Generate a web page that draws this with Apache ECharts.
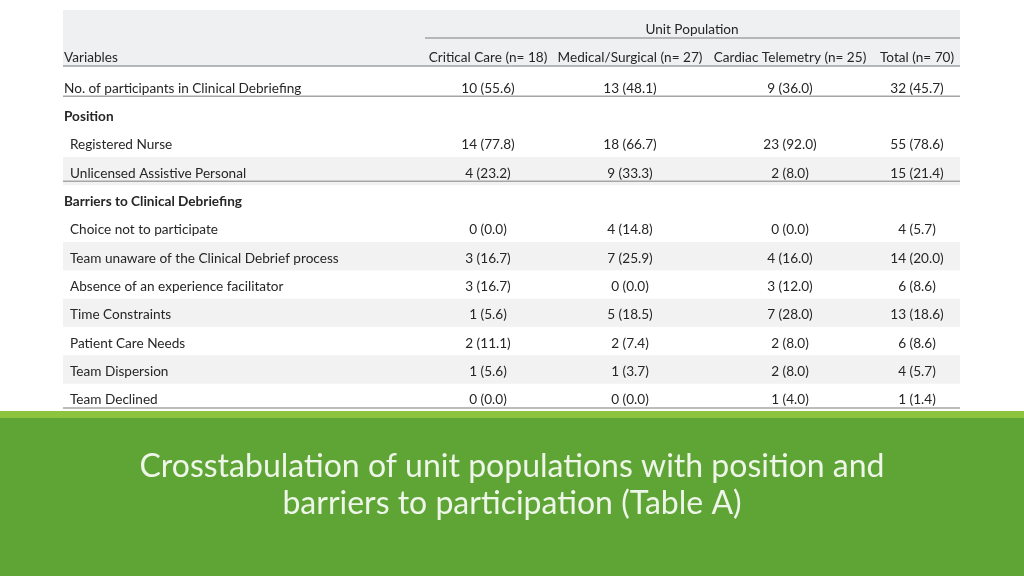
<!DOCTYPE html>
<html>
<head>
<meta charset="utf-8">
<script src="https://cdn.jsdelivr.net/npm/echarts@6/dist/echarts.min.js"></script>
<style>html,body{margin:0;padding:0;background:#fff}#main{width:1024px;height:576px}</style>
</head>
<body>
<div id="main"></div>
<script>
var columns = ['Critical Care (n= 18)', 'Medical/Surgical (n= 27)', 'Cardiac Telemetry (n= 25)', 'Total (n= 70)'];
var rowLabels = ['No. of participants in Clinical Debriefing', 'Position', 'Registered Nurse', 'Unlicensed Assistive Personal',
  'Barriers to Clinical Debriefing', 'Choice not to participate', 'Team unaware of the Clinical Debrief process',
  'Absence of an experience facilitator', 'Time Constraints', 'Patient Care Needs', 'Team Dispersion', 'Team Declined'];
var rowKind = ['plain', 'section', 'sub', 'sub', 'section', 'sub', 'sub', 'sub', 'sub', 'sub', 'sub', 'sub'];
var shaded = [0, 0, 0, 1, 0, 0, 1, 0, 1, 0, 1, 0];
var ruled = [1, 0, 0, 1, 0, 0, 0, 0, 0, 0, 0, 1];
var criticalCare = ['10 (55.6)', '', '14 (77.8)', '4 (23.2)', '', '0 (0.0)', '3 (16.7)', '3 (16.7)', '1 (5.6)', '2 (11.1)', '1 (5.6)', '0 (0.0)'];
var medSurg = ['13 (48.1)', '', '18 (66.7)', '9 (33.3)', '', '4 (14.8)', '7 (25.9)', '0 (0.0)', '5 (18.5)', '2 (7.4)', '1 (3.7)', '0 (0.0)'];
var cardiac = ['9 (36.0)', '', '23 (92.0)', '2 (8.0)', '', '0 (0.0)', '4 (16.0)', '3 (12.0)', '7 (28.0)', '2 (8.0)', '2 (8.0)', '1 (4.0)'];
var total = ['32 (45.7)', '', '55 (78.6)', '15 (21.4)', '', '4 (5.7)', '14 (20.0)', '6 (8.6)', '13 (18.6)', '6 (8.6)', '4 (5.7)', '1 (1.4)'];
var title = 'Crosstabulation of unit populations with position and\nbarriers to participation (Table A)';

var font = 'Lato, "Open Sans", sans-serif';
var fs = '13.6px ';
var colX = [488, 630, 790, 917];
var left = 63, right = 960;

var data = rowLabels.map(function (r, i) {
  return [i, r, rowKind[i], shaded[i], ruled[i], criticalCare[i], medSurg[i], cardiac[i], total[i]];
});

var chart = echarts.init(document.getElementById('main'), null, { renderer: 'canvas' });
chart.setOption({
  animation: false,
  grid: { left: 0, right: 0, top: 72, bottom: 164 },
  xAxis: { type: 'value', min: 0, max: 1, show: false },
  yAxis: { type: 'category', inverse: true, data: rowLabels, show: false },
  series: [{
    type: 'custom',
    data: data,
    encode: { y: 0 },
    renderItem: function (params, api) {
      var i = api.value(0);
      var d = data[i];
      var c = api.coord([0, i]);
      var h = api.size([0, 1])[1];
      var y = c[1];
      var kids = [];
      if (d[3]) kids.push({ type: 'rect', shape: { x: left, y: y - h / 2, width: right - left, height: h }, style: { fill: '#f2f2f2' } });
      if (d[4]) kids.push({ type: 'line', shape: { x1: left, y1: y + h / 2 - 4, x2: right, y2: y + h / 2 - 4 }, style: { stroke: '#a6a6a6', lineWidth: 1.5 } });
      kids.push({ type: 'text', style: { x: d[2] === 'sub' ? 70 : 64, y: y + 2, text: d[1], fill: '#262626', font: (d[2] === 'section' ? 'bold ' : '') + fs + font, verticalAlign: 'middle' } });
      for (var k = 0; k < 4; k++) {
        kids.push({ type: 'text', style: { x: colX[k], y: y + 2, text: d[5 + k], fill: '#262626', font: fs + font, align: 'center', verticalAlign: 'middle' } });
      }
      return { type: 'group', children: kids };
    }
  }],
  graphic: [
    { type: 'rect', shape: { x: left, y: 10, width: right - left, height: 57 }, style: { fill: '#eef0f2' }, z: -1 },
    { type: 'line', shape: { x1: 425, y1: 38, x2: right, y2: 38 }, style: { stroke: '#7f7f7f', lineWidth: 1 } },
    { type: 'line', shape: { x1: left, y1: 66, x2: right, y2: 66 }, style: { stroke: '#7f7f7f', lineWidth: 1 } },
    { type: 'text', style: { x: 692, y: 30, text: 'Unit Population', fill: '#262626', font: fs + font, align: 'center', verticalAlign: 'middle' } },
    { type: 'text', style: { x: 64, y: 58, text: 'Variables', fill: '#262626', font: fs + font, verticalAlign: 'middle' } },
    { type: 'text', style: { x: colX[0], y: 58, text: columns[0], fill: '#262626', font: fs + font, align: 'center', verticalAlign: 'middle' } },
    { type: 'text', style: { x: 630, y: 58, text: columns[1], fill: '#262626', font: fs + font, align: 'center', verticalAlign: 'middle' } },
    { type: 'text', style: { x: 790, y: 58, text: columns[2], fill: '#262626', font: fs + font, align: 'center', verticalAlign: 'middle' } },
    { type: 'text', style: { x: 917, y: 58, text: columns[3], fill: '#262626', font: fs + font, align: 'center', verticalAlign: 'middle' } },
    { type: 'rect', shape: { x: 0, y: 411, width: 1024, height: 7 }, style: { fill: '#8cc43f' } },
    { type: 'rect', shape: { x: 0, y: 418, width: 1024, height: 158 }, style: { fill: '#5fa535' } },
    { type: 'text', style: { x: 512, y: 485, text: title, fill: '#eef5e9', font: '32px ' + font, align: 'center', verticalAlign: 'middle', lineHeight: 37 } }
  ]
});
</script>
</body>
</html>
